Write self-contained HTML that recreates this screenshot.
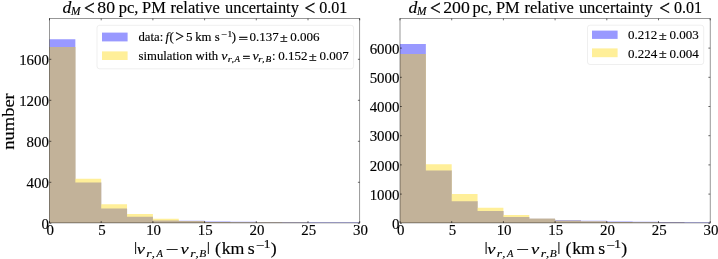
<!DOCTYPE html>
<html><head><meta charset="utf-8"><title>figure</title>
<style>
html,body{margin:0;padding:0;background:#fff;}
svg{display:block;}
text{font-family:"Liberation Serif","DejaVu Serif",serif;fill:#000;}
</style></head><body>
<svg width="718" height="259" viewBox="0 0 718 259">
<rect width="718" height="259" fill="#fff"/>
<path d="M49.50 222.90L49.50 39.30L75.35 39.30L75.35 182.50L101.20 182.50L101.20 208.50L127.05 208.50L127.05 216.80L152.90 216.80L152.90 220.40L178.75 220.40L178.75 220.70L204.60 220.70L204.60 221.40L230.45 221.40L230.45 221.80L256.30 221.80L256.30 222.10L282.15 222.10L282.15 222.30L308.00 222.30L308.00 222.40L333.85 222.40L333.85 222.50L359.70 222.50L359.70 222.90Z" fill="rgb(153,153,255)"/>
<path d="M49.50 222.90L49.50 47.00L75.35 47.00L75.35 178.80L101.20 178.80L101.20 204.30L127.05 204.30L127.05 214.00L152.90 214.00L152.90 218.80L178.75 218.80L178.75 220.90L204.60 220.90L204.60 222.00L230.45 222.00L230.45 222.40L256.30 222.40L256.30 222.60L282.15 222.60L282.15 222.80L308.00 222.80L308.00 222.90L333.85 222.90L333.85 222.90L359.70 222.90L359.70 222.90Z" fill="rgb(255,239,153)"/>
<path d="M49.50 222.90L49.50 47.00L75.35 47.00L75.35 182.50L101.20 182.50L101.20 208.50L127.05 208.50L127.05 216.80L152.90 216.80L152.90 220.40L178.75 220.40L178.75 220.90L204.60 220.90L204.60 222.00L230.45 222.00L230.45 222.40L256.30 222.40L256.30 222.60L282.15 222.60L282.15 222.80L308.00 222.80L308.00 222.90L333.85 222.90L333.85 222.90L359.70 222.90L359.70 222.90Z" fill="rgb(194,178,153)"/>
<rect x="49.5" y="18.5" width="310.20" height="204.40" fill="none" stroke="#000" stroke-width="0.7" stroke-opacity="0.58"/>
<path d="M49.50 222.9v-1.8M49.50 18.5v1.8" stroke="#000" stroke-width="0.6"/>
<text transform="translate(50.20,234.70) scale(0.980,1)" font-size="15.2" text-anchor="middle" stroke="#000" stroke-width="0.15">0</text>
<path d="M101.20 222.9v-1.8M101.20 18.5v1.8" stroke="#000" stroke-width="0.6"/>
<text transform="translate(101.90,234.70) scale(0.980,1)" font-size="15.2" text-anchor="middle" stroke="#000" stroke-width="0.15">5</text>
<path d="M152.90 222.9v-1.8M152.90 18.5v1.8" stroke="#000" stroke-width="0.6"/>
<text transform="translate(153.60,234.70) scale(0.980,1)" font-size="15.2" text-anchor="middle" stroke="#000" stroke-width="0.15">10</text>
<path d="M204.60 222.9v-1.8M204.60 18.5v1.8" stroke="#000" stroke-width="0.6"/>
<text transform="translate(205.30,234.70) scale(0.980,1)" font-size="15.2" text-anchor="middle" stroke="#000" stroke-width="0.15">15</text>
<path d="M256.30 222.9v-1.8M256.30 18.5v1.8" stroke="#000" stroke-width="0.6"/>
<text transform="translate(257.00,234.70) scale(0.980,1)" font-size="15.2" text-anchor="middle" stroke="#000" stroke-width="0.15">20</text>
<path d="M308.00 222.9v-1.8M308.00 18.5v1.8" stroke="#000" stroke-width="0.6"/>
<text transform="translate(308.70,234.70) scale(0.980,1)" font-size="15.2" text-anchor="middle" stroke="#000" stroke-width="0.15">25</text>
<path d="M359.70 222.9v-1.8M359.70 18.5v1.8" stroke="#000" stroke-width="0.6"/>
<text transform="translate(360.40,234.70) scale(0.980,1)" font-size="15.2" text-anchor="middle" stroke="#000" stroke-width="0.15">30</text>
<path d="M49.5 223.30h1.8M359.7 223.30h-1.8" stroke="#000" stroke-width="0.6"/>
<text transform="translate(48.90,228.90) scale(0.980,1)" font-size="15.2" text-anchor="end" stroke="#000" stroke-width="0.15">0</text>
<path d="M49.5 182.30h1.8M359.7 182.30h-1.8" stroke="#000" stroke-width="0.6"/>
<text transform="translate(48.90,187.90) scale(0.980,1)" font-size="15.2" text-anchor="end" stroke="#000" stroke-width="0.15">400</text>
<path d="M49.5 141.30h1.8M359.7 141.30h-1.8" stroke="#000" stroke-width="0.6"/>
<text transform="translate(48.90,146.90) scale(0.980,1)" font-size="15.2" text-anchor="end" stroke="#000" stroke-width="0.15">800</text>
<path d="M49.5 100.30h1.8M359.7 100.30h-1.8" stroke="#000" stroke-width="0.6"/>
<text transform="translate(48.90,105.90) scale(0.980,1)" font-size="15.2" text-anchor="end" stroke="#000" stroke-width="0.15">1200</text>
<path d="M49.5 59.30h1.8M359.7 59.30h-1.8" stroke="#000" stroke-width="0.6"/>
<text transform="translate(48.90,64.90) scale(0.980,1)" font-size="15.2" text-anchor="end" stroke="#000" stroke-width="0.15">1600</text>
<path d="M400.00 222.90L400.00 43.90L425.85 43.90L425.85 170.60L451.70 170.60L451.70 201.20L477.55 201.20L477.55 211.00L503.40 211.00L503.40 216.90L529.25 216.90L529.25 218.70L555.10 218.70L555.10 220.10L580.95 220.10L580.95 220.70L606.80 220.70L606.80 221.40L632.65 221.40L632.65 221.70L658.50 221.70L658.50 222.00L684.35 222.00L684.35 222.40L710.20 222.40L710.20 222.90Z" fill="rgb(153,153,255)"/>
<path d="M400.00 222.90L400.00 54.00L425.85 54.00L425.85 164.30L451.70 164.30L451.70 193.90L477.55 193.90L477.55 207.80L503.40 207.80L503.40 214.90L529.25 214.90L529.25 218.70L555.10 218.70L555.10 220.70L580.95 220.70L580.95 221.60L606.80 221.60L606.80 222.10L632.65 222.10L632.65 222.50L658.50 222.50L658.50 222.70L684.35 222.70L684.35 222.90L710.20 222.90L710.20 222.90Z" fill="rgb(255,239,153)"/>
<path d="M400.00 222.90L400.00 54.00L425.85 54.00L425.85 170.60L451.70 170.60L451.70 201.20L477.55 201.20L477.55 211.00L503.40 211.00L503.40 216.90L529.25 216.90L529.25 218.70L555.10 218.70L555.10 220.70L580.95 220.70L580.95 221.60L606.80 221.60L606.80 222.10L632.65 222.10L632.65 222.50L658.50 222.50L658.50 222.70L684.35 222.70L684.35 222.90L710.20 222.90L710.20 222.90Z" fill="rgb(194,178,153)"/>
<rect x="400.0" y="18.5" width="310.20" height="204.40" fill="none" stroke="#000" stroke-width="0.7" stroke-opacity="0.58"/>
<path d="M400.00 222.9v-1.8M400.00 18.5v1.8" stroke="#000" stroke-width="0.6"/>
<text transform="translate(400.70,234.70) scale(0.980,1)" font-size="15.2" text-anchor="middle" stroke="#000" stroke-width="0.15">0</text>
<path d="M451.70 222.9v-1.8M451.70 18.5v1.8" stroke="#000" stroke-width="0.6"/>
<text transform="translate(452.40,234.70) scale(0.980,1)" font-size="15.2" text-anchor="middle" stroke="#000" stroke-width="0.15">5</text>
<path d="M503.40 222.9v-1.8M503.40 18.5v1.8" stroke="#000" stroke-width="0.6"/>
<text transform="translate(504.10,234.70) scale(0.980,1)" font-size="15.2" text-anchor="middle" stroke="#000" stroke-width="0.15">10</text>
<path d="M555.10 222.9v-1.8M555.10 18.5v1.8" stroke="#000" stroke-width="0.6"/>
<text transform="translate(555.80,234.70) scale(0.980,1)" font-size="15.2" text-anchor="middle" stroke="#000" stroke-width="0.15">15</text>
<path d="M606.80 222.9v-1.8M606.80 18.5v1.8" stroke="#000" stroke-width="0.6"/>
<text transform="translate(607.50,234.70) scale(0.980,1)" font-size="15.2" text-anchor="middle" stroke="#000" stroke-width="0.15">20</text>
<path d="M658.50 222.9v-1.8M658.50 18.5v1.8" stroke="#000" stroke-width="0.6"/>
<text transform="translate(659.20,234.70) scale(0.980,1)" font-size="15.2" text-anchor="middle" stroke="#000" stroke-width="0.15">25</text>
<path d="M710.20 222.9v-1.8M710.20 18.5v1.8" stroke="#000" stroke-width="0.6"/>
<text transform="translate(710.90,234.70) scale(0.980,1)" font-size="15.2" text-anchor="middle" stroke="#000" stroke-width="0.15">30</text>
<path d="M400.0 223.30h1.8M710.2 223.30h-1.8" stroke="#000" stroke-width="0.6"/>
<text transform="translate(399.40,228.90) scale(0.980,1)" font-size="15.2" text-anchor="end" stroke="#000" stroke-width="0.15">0</text>
<path d="M400.0 194.10h1.8M710.2 194.10h-1.8" stroke="#000" stroke-width="0.6"/>
<text transform="translate(399.40,199.70) scale(0.980,1)" font-size="15.2" text-anchor="end" stroke="#000" stroke-width="0.15">1000</text>
<path d="M400.0 164.90h1.8M710.2 164.90h-1.8" stroke="#000" stroke-width="0.6"/>
<text transform="translate(399.40,170.50) scale(0.980,1)" font-size="15.2" text-anchor="end" stroke="#000" stroke-width="0.15">2000</text>
<path d="M400.0 135.70h1.8M710.2 135.70h-1.8" stroke="#000" stroke-width="0.6"/>
<text transform="translate(399.40,141.30) scale(0.980,1)" font-size="15.2" text-anchor="end" stroke="#000" stroke-width="0.15">3000</text>
<path d="M400.0 106.50h1.8M710.2 106.50h-1.8" stroke="#000" stroke-width="0.6"/>
<text transform="translate(399.40,112.10) scale(0.980,1)" font-size="15.2" text-anchor="end" stroke="#000" stroke-width="0.15">4000</text>
<path d="M400.0 77.30h1.8M710.2 77.30h-1.8" stroke="#000" stroke-width="0.6"/>
<text transform="translate(399.40,82.90) scale(0.980,1)" font-size="15.2" text-anchor="end" stroke="#000" stroke-width="0.15">5000</text>
<path d="M400.0 48.10h1.8M710.2 48.10h-1.8" stroke="#000" stroke-width="0.6"/>
<text transform="translate(399.40,53.70) scale(0.980,1)" font-size="15.2" text-anchor="end" stroke="#000" stroke-width="0.15">6000</text>
<rect x="97" y="25.3" width="256.6" height="43.5" rx="2.5" fill="#fff" fill-opacity="0.8" stroke="#ccc" stroke-opacity="0.7" stroke-width="0.45"/>
<rect x="102" y="32.6" width="25.6" height="8.8" fill="rgb(153,153,255)"/>
<rect x="102" y="51.4" width="25.6" height="8.6" fill="rgb(255,239,153)"/>
<text transform="translate(138.50,41.20) scale(1.020,1)" font-size="12.5" text-anchor="start" stroke="#000" stroke-width="0.15">data:</text>
<text transform="translate(165.50,41.20) scale(1.020,1)" font-size="12.5" font-style="italic" text-anchor="start" stroke="#000" stroke-width="0.15">f</text>
<text transform="translate(169.60,41.20) scale(1.020,1)" font-size="12.5" text-anchor="start" stroke="#000" stroke-width="0.15">(</text>
<text transform="translate(175.20,41.80) scale(0.980,1)" font-size="16" text-anchor="start" stroke="#000" stroke-width="0.2">&gt;</text>
<text transform="translate(185.90,41.20) scale(0.965,1)" font-size="13.5" text-anchor="start" stroke="#000" stroke-width="0.15">5</text>
<text transform="translate(195.20,41.20) scale(1.020,1)" font-size="12.5" text-anchor="start" stroke="#000" stroke-width="0.15">km</text>
<text transform="translate(214.80,41.20) scale(1.020,1)" font-size="12.5" text-anchor="start" stroke="#000" stroke-width="0.15">s</text>
<text transform="translate(221.50,37.30) scale(1.200,1)" font-size="8.6" text-anchor="start" stroke="#000" stroke-width="0.15">−1</text>
<text transform="translate(231.80,41.20) scale(1.020,1)" font-size="12.5" text-anchor="start" stroke="#000" stroke-width="0.15">)</text>
<text transform="translate(238.50,43.00) scale(1.350,1)" font-size="12.5" text-anchor="start" stroke="#000" stroke-width="0.3">=</text>
<text transform="translate(249.40,41.20) scale(0.965,1)" font-size="13.5" text-anchor="start" stroke="#000" stroke-width="0.15">0.137</text>
<text transform="translate(280.00,42.10) scale(1.120,1)" font-size="12.5" text-anchor="start" stroke="#000" stroke-width="0.2">±</text>
<text transform="translate(290.30,41.20) scale(0.965,1)" font-size="13.5" text-anchor="start" stroke="#000" stroke-width="0.15">0.006</text>
<text transform="translate(138.50,59.80) scale(1.020,1)" font-size="12.5" text-anchor="start" stroke="#000" stroke-width="0.15">simulation</text>
<text transform="translate(195.60,59.80) scale(1.020,1)" font-size="12.5" text-anchor="start" stroke="#000" stroke-width="0.15">with</text>
<text transform="translate(221.30,59.80) scale(1.120,1)" font-size="12.5" font-style="italic" text-anchor="start" stroke="#000" stroke-width="0.15">v</text>
<text transform="translate(227.80,62.10) scale(1.200,1)" font-size="9.0" font-style="italic" text-anchor="start" stroke="#000" stroke-width="0.15">r</text>
<text transform="translate(231.70,62.10) scale(1.000,1)" font-size="9.0" font-style="italic" text-anchor="start" stroke="#000" stroke-width="0.15">,</text>
<text transform="translate(234.60,62.10) scale(1.000,1)" font-size="9.0" font-style="italic" text-anchor="start" stroke="#000" stroke-width="0.15">A</text>
<text transform="translate(242.50,61.60) scale(1.100,1)" font-size="12.5" text-anchor="start" stroke="#000" stroke-width="0.3">=</text>
<text transform="translate(252.60,59.80) scale(1.120,1)" font-size="12.5" font-style="italic" text-anchor="start" stroke="#000" stroke-width="0.15">v</text>
<text transform="translate(258.30,62.10) scale(1.200,1)" font-size="9.0" font-style="italic" text-anchor="start" stroke="#000" stroke-width="0.15">r</text>
<text transform="translate(262.30,62.10) scale(1.000,1)" font-size="9.0" font-style="italic" text-anchor="start" stroke="#000" stroke-width="0.15">,</text>
<text transform="translate(265.50,62.10) scale(1.050,1)" font-size="9.0" font-style="italic" text-anchor="start" stroke="#000" stroke-width="0.15">B</text>
<text transform="translate(272.00,59.80) scale(1.020,1)" font-size="12.5" text-anchor="start" stroke="#000" stroke-width="0.15">:</text>
<text transform="translate(278.30,59.80) scale(0.965,1)" font-size="13.5" text-anchor="start" stroke="#000" stroke-width="0.15">0.152</text>
<text transform="translate(309.10,60.70) scale(1.120,1)" font-size="12.5" text-anchor="start" stroke="#000" stroke-width="0.2">±</text>
<text transform="translate(319.50,59.80) scale(0.965,1)" font-size="13.5" text-anchor="start" stroke="#000" stroke-width="0.15">0.007</text>
<rect x="587.5" y="25.2" width="116.2" height="39.3" rx="2.5" fill="#fff" fill-opacity="0.8" stroke="#ccc" stroke-opacity="0.7" stroke-width="0.45"/>
<rect x="592" y="30.6" width="25.6" height="8.3" fill="rgb(153,153,255)"/>
<rect x="592" y="48.4" width="25.6" height="8.8" fill="rgb(255,239,153)"/>
<text transform="translate(628.10,39.20) scale(0.965,1)" font-size="13.5" text-anchor="start" stroke="#000" stroke-width="0.15">0.212</text>
<text transform="translate(659.10,40.10) scale(1.120,1)" font-size="12.5" text-anchor="start" stroke="#000" stroke-width="0.2">±</text>
<text transform="translate(669.50,39.20) scale(0.965,1)" font-size="13.5" text-anchor="start" stroke="#000" stroke-width="0.15">0.003</text>
<text transform="translate(628.10,57.50) scale(0.965,1)" font-size="13.5" text-anchor="start" stroke="#000" stroke-width="0.15">0.224</text>
<text transform="translate(659.10,58.40) scale(1.120,1)" font-size="12.5" text-anchor="start" stroke="#000" stroke-width="0.2">±</text>
<text transform="translate(669.50,57.50) scale(0.965,1)" font-size="13.5" text-anchor="start" stroke="#000" stroke-width="0.15">0.004</text>
<text transform="translate(62.60,12.60) scale(1.050,1)" font-size="16.9" font-style="italic" text-anchor="start" stroke="#000" stroke-width="0.15">d</text>
<text transform="translate(71.10,14.70) scale(0.980,1)" font-size="11.6" font-style="italic" text-anchor="start" stroke="#000" stroke-width="0.15">M</text>
<text transform="translate(84.10,14.70) scale(0.950,1)" font-size="20.0" text-anchor="start" stroke="#000" stroke-width="0.35">&lt;</text>
<text transform="translate(97.30,12.60) scale(1.020,1)" font-size="17.4" text-anchor="start" stroke="#000" stroke-width="0.15">80</text>
<text transform="translate(118.70,12.60) scale(0.973,1)" font-size="16.9" text-anchor="start" stroke="#000" stroke-width="0.15">pc,</text>
<text transform="translate(142.00,12.60) scale(0.973,1)" font-size="16.9" text-anchor="start" stroke="#000" stroke-width="0.15">PM</text>
<text transform="translate(170.60,12.60) scale(0.973,1)" font-size="16.9" text-anchor="start" stroke="#000" stroke-width="0.15">relative</text>
<text transform="translate(225.00,12.60) scale(0.973,1)" font-size="16.9" text-anchor="start" stroke="#000" stroke-width="0.15">uncertainty</text>
<text transform="translate(304.50,14.70) scale(0.950,1)" font-size="20.0" text-anchor="start" stroke="#000" stroke-width="0.35">&lt;</text>
<text transform="translate(319.20,12.60) scale(0.925,1)" font-size="17.4" text-anchor="start" stroke="#000" stroke-width="0.15">0.01</text>
<text transform="translate(408.50,12.60) scale(1.050,1)" font-size="16.9" font-style="italic" text-anchor="start" stroke="#000" stroke-width="0.15">d</text>
<text transform="translate(417.00,14.70) scale(0.980,1)" font-size="11.6" font-style="italic" text-anchor="start" stroke="#000" stroke-width="0.15">M</text>
<text transform="translate(430.00,14.70) scale(0.950,1)" font-size="20.0" text-anchor="start" stroke="#000" stroke-width="0.35">&lt;</text>
<text transform="translate(443.20,12.60) scale(1.020,1)" font-size="17.4" text-anchor="start" stroke="#000" stroke-width="0.15">200</text>
<text transform="translate(472.60,12.60) scale(0.973,1)" font-size="16.9" text-anchor="start" stroke="#000" stroke-width="0.15">pc,</text>
<text transform="translate(495.90,12.60) scale(0.973,1)" font-size="16.9" text-anchor="start" stroke="#000" stroke-width="0.15">PM</text>
<text transform="translate(524.50,12.60) scale(0.973,1)" font-size="16.9" text-anchor="start" stroke="#000" stroke-width="0.15">relative</text>
<text transform="translate(578.90,12.60) scale(0.973,1)" font-size="16.9" text-anchor="start" stroke="#000" stroke-width="0.15">uncertainty</text>
<text transform="translate(659.30,14.70) scale(0.950,1)" font-size="20.0" text-anchor="start" stroke="#000" stroke-width="0.35">&lt;</text>
<text transform="translate(674.00,12.60) scale(0.925,1)" font-size="17.4" text-anchor="start" stroke="#000" stroke-width="0.15">0.01</text>
<text transform="translate(134.10,251.10) scale(1.300,1)" font-size="12.4" text-anchor="start" stroke="#000" stroke-width="0.15">|</text>
<text transform="translate(136.70,253.70) scale(1.200,1)" font-size="15.4" font-style="italic" text-anchor="start" stroke="#000" stroke-width="0.15">v</text>
<text transform="translate(146.30,256.80) scale(1.200,1)" font-size="11.4" font-style="italic" text-anchor="start" stroke="#000" stroke-width="0.15">r</text>
<text transform="translate(151.70,256.80) scale(1.100,1)" font-size="11.4" font-style="italic" text-anchor="start" stroke="#000" stroke-width="0.15">,</text>
<text transform="translate(156.50,256.80) scale(0.920,1)" font-size="11.4" font-style="italic" text-anchor="start" stroke="#000" stroke-width="0.15">A</text>
<text transform="translate(165.40,255.30) scale(1.420,1)" font-size="16.2" text-anchor="start" stroke="#000" stroke-width="0.15">−</text>
<text transform="translate(180.50,253.70) scale(1.200,1)" font-size="15.4" font-style="italic" text-anchor="start" stroke="#000" stroke-width="0.15">v</text>
<text transform="translate(190.20,256.80) scale(1.200,1)" font-size="11.4" font-style="italic" text-anchor="start" stroke="#000" stroke-width="0.15">r</text>
<text transform="translate(195.60,256.80) scale(1.100,1)" font-size="11.4" font-style="italic" text-anchor="start" stroke="#000" stroke-width="0.15">,</text>
<text transform="translate(199.20,256.80) scale(1.000,1)" font-size="11.4" font-style="italic" text-anchor="start" stroke="#000" stroke-width="0.15">B</text>
<text transform="translate(206.80,251.10) scale(1.300,1)" font-size="12.4" text-anchor="start" stroke="#000" stroke-width="0.15">|</text>
<text transform="translate(215.00,253.70) scale(1.100,1)" font-size="16.2" text-anchor="start" stroke="#000" stroke-width="0.15">(</text>
<text transform="translate(221.70,253.70) scale(1.100,1)" font-size="16.2" text-anchor="start" stroke="#000" stroke-width="0.15">km</text>
<text transform="translate(247.70,253.70) scale(1.100,1)" font-size="16.2" text-anchor="start" stroke="#000" stroke-width="0.15">s</text>
<text transform="translate(255.90,249.00) scale(1.300,1)" font-size="11.4" text-anchor="start" stroke="#000" stroke-width="0.15">−</text>
<text transform="translate(263.80,247.90) scale(1.100,1)" font-size="12.2" text-anchor="start" stroke="#000" stroke-width="0.15">1</text>
<text transform="translate(270.80,253.70) scale(1.100,1)" font-size="16.2" text-anchor="start" stroke="#000" stroke-width="0.15">)</text>
<text transform="translate(484.60,251.10) scale(1.300,1)" font-size="12.4" text-anchor="start" stroke="#000" stroke-width="0.15">|</text>
<text transform="translate(487.20,253.70) scale(1.200,1)" font-size="15.4" font-style="italic" text-anchor="start" stroke="#000" stroke-width="0.15">v</text>
<text transform="translate(496.80,256.80) scale(1.200,1)" font-size="11.4" font-style="italic" text-anchor="start" stroke="#000" stroke-width="0.15">r</text>
<text transform="translate(502.20,256.80) scale(1.100,1)" font-size="11.4" font-style="italic" text-anchor="start" stroke="#000" stroke-width="0.15">,</text>
<text transform="translate(507.00,256.80) scale(0.920,1)" font-size="11.4" font-style="italic" text-anchor="start" stroke="#000" stroke-width="0.15">A</text>
<text transform="translate(515.90,255.30) scale(1.420,1)" font-size="16.2" text-anchor="start" stroke="#000" stroke-width="0.15">−</text>
<text transform="translate(531.00,253.70) scale(1.200,1)" font-size="15.4" font-style="italic" text-anchor="start" stroke="#000" stroke-width="0.15">v</text>
<text transform="translate(540.70,256.80) scale(1.200,1)" font-size="11.4" font-style="italic" text-anchor="start" stroke="#000" stroke-width="0.15">r</text>
<text transform="translate(546.10,256.80) scale(1.100,1)" font-size="11.4" font-style="italic" text-anchor="start" stroke="#000" stroke-width="0.15">,</text>
<text transform="translate(549.70,256.80) scale(1.000,1)" font-size="11.4" font-style="italic" text-anchor="start" stroke="#000" stroke-width="0.15">B</text>
<text transform="translate(557.30,251.10) scale(1.300,1)" font-size="12.4" text-anchor="start" stroke="#000" stroke-width="0.15">|</text>
<text transform="translate(565.50,253.70) scale(1.100,1)" font-size="16.2" text-anchor="start" stroke="#000" stroke-width="0.15">(</text>
<text transform="translate(572.20,253.70) scale(1.100,1)" font-size="16.2" text-anchor="start" stroke="#000" stroke-width="0.15">km</text>
<text transform="translate(598.20,253.70) scale(1.100,1)" font-size="16.2" text-anchor="start" stroke="#000" stroke-width="0.15">s</text>
<text transform="translate(606.40,249.00) scale(1.300,1)" font-size="11.4" text-anchor="start" stroke="#000" stroke-width="0.15">−</text>
<text transform="translate(614.30,247.90) scale(1.100,1)" font-size="12.2" text-anchor="start" stroke="#000" stroke-width="0.15">1</text>
<text transform="translate(621.30,253.70) scale(1.100,1)" font-size="16.2" text-anchor="start" stroke="#000" stroke-width="0.15">)</text>
<text transform="translate(13.9,121.5) rotate(-90) scale(1.09,1)" text-anchor="middle" font-size="17.0" stroke="#000" stroke-width="0.15">number</text>
</svg>
</body></html>
